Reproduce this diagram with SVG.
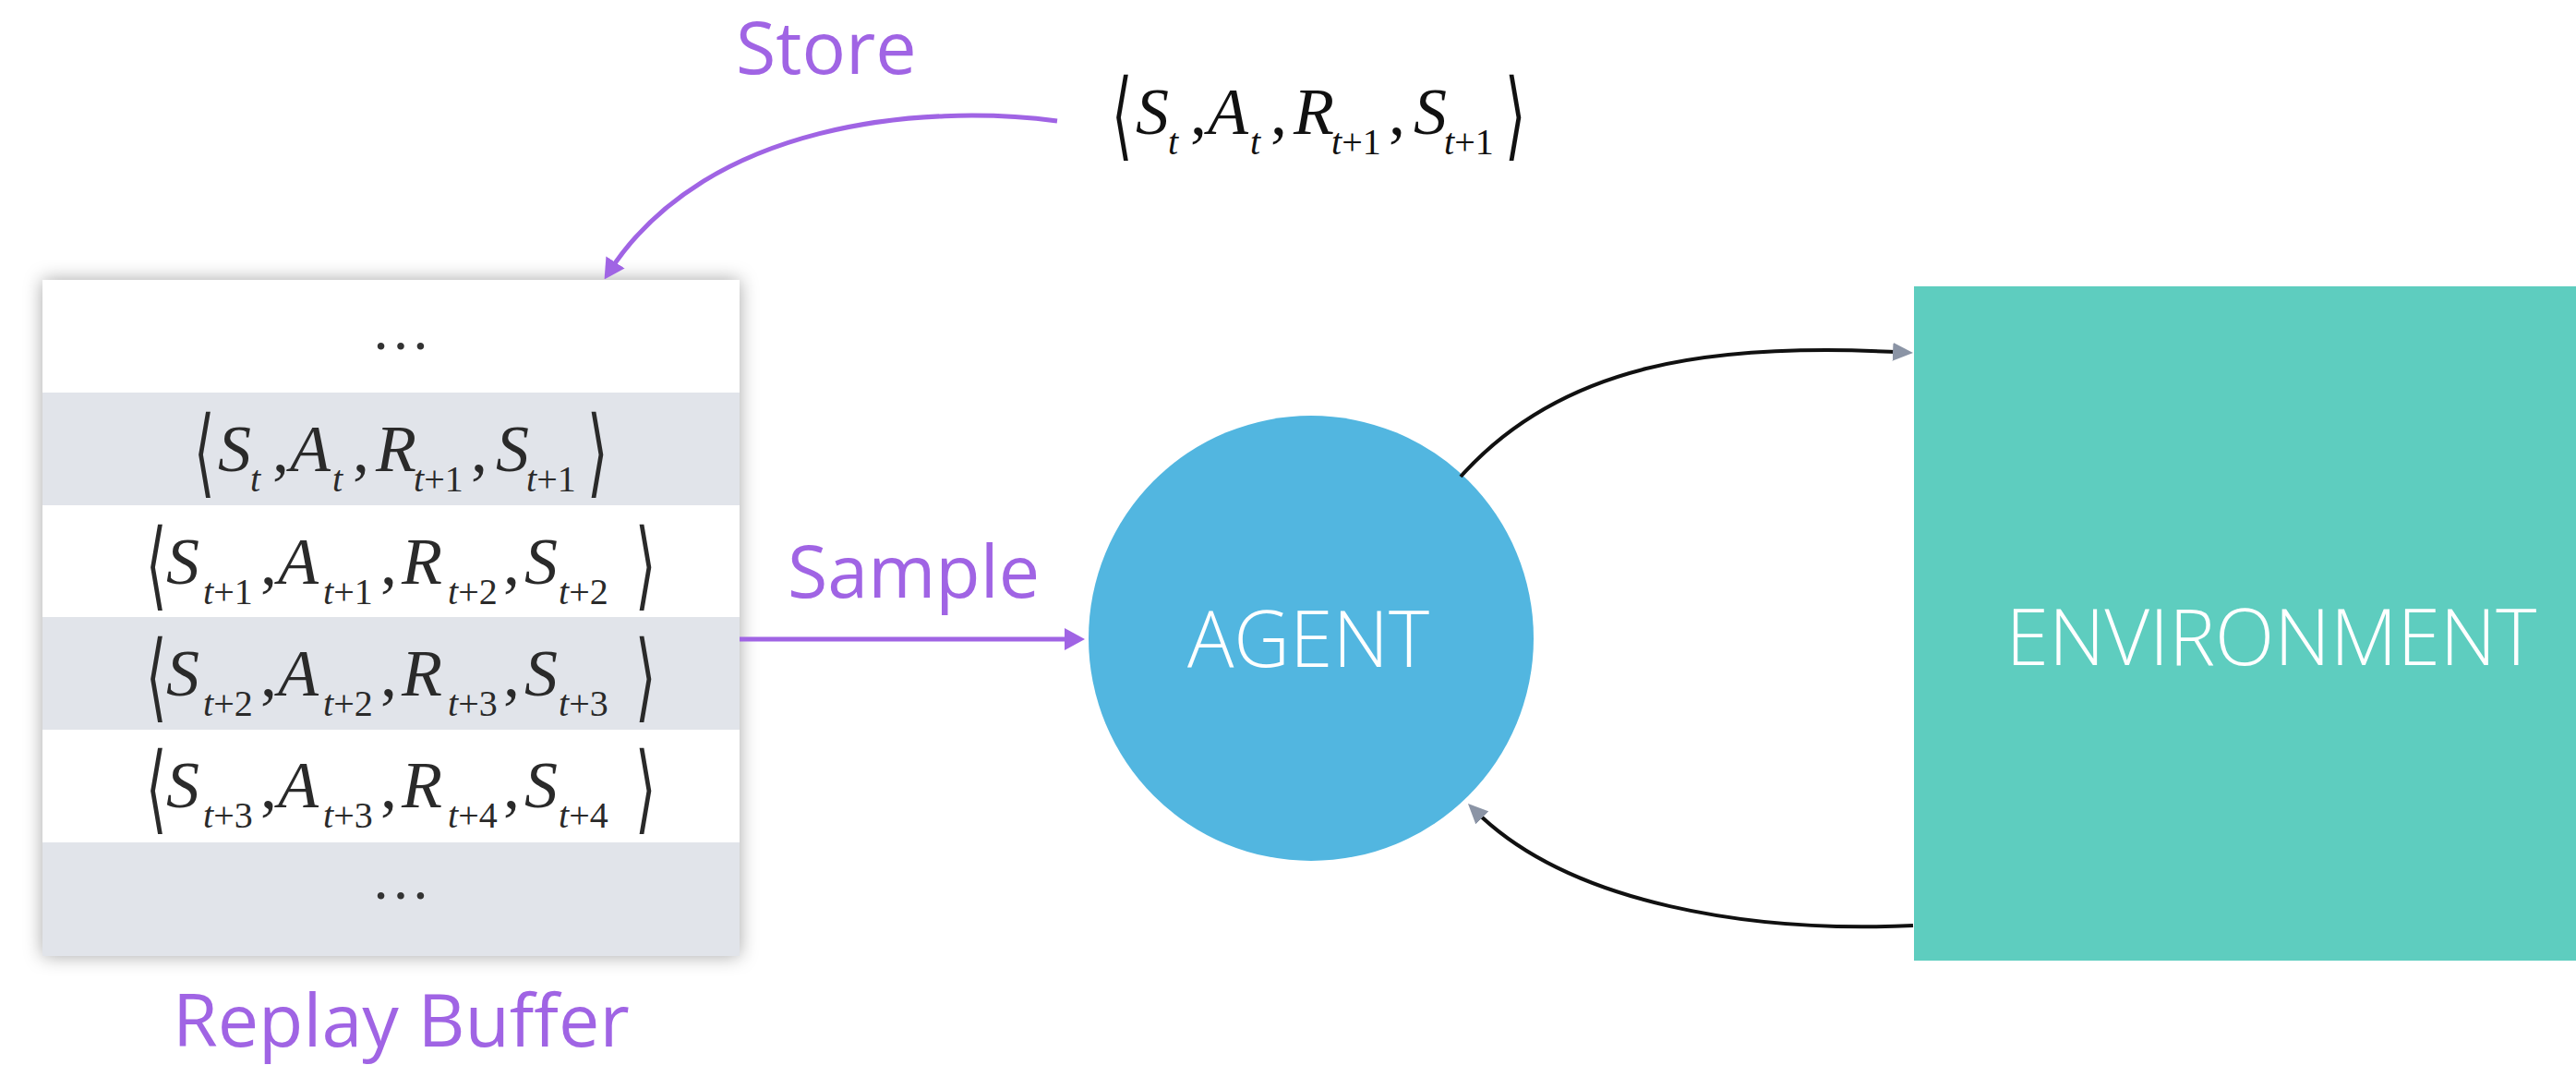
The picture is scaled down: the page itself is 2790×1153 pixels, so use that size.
<svg xmlns="http://www.w3.org/2000/svg" width="2790" height="1153" viewBox="0 0 2790 1153">
<style>
.lbl{font-family:"Open Sans","Liberation Sans",sans-serif;fill:#a064e4;font-size:79px}
.wht{font-family:"Open Sans","Liberation Sans",sans-serif;fill:#ffffff;font-size:84px;font-weight:300}
.mi{font-family:"Liberation Serif","Times New Roman",serif;font-style:italic;font-size:72px}
.mr{font-family:"Liberation Serif","Times New Roman",serif;font-size:72px}
.sub{font-family:"Liberation Serif","Times New Roman",serif;font-size:40px}
.it{font-style:italic}
.br{font-family:"DejaVu Serif","DejaVu Sans",serif;font-size:96px;font-weight:200}
.dots{font-family:"Liberation Serif",serif;font-size:64px;fill:#333;text-anchor:middle}
.tup{fill:#2a2a2a}
.top{fill:#111}
.pl{fill:none;stroke:#a064e4;stroke-width:5}
.bl{fill:none;stroke:#111;stroke-width:4}
</style>
<defs>
<filter id="sh" x="-10%" y="-10%" width="120%" height="120%">
<feDropShadow dx="0" dy="0" stdDeviation="10" flood-color="#000" flood-opacity="0.35"/>
</filter>
<marker id="ap" markerUnits="userSpaceOnUse" viewBox="0 0 22 24" markerWidth="22" markerHeight="24" refX="12" refY="12" orient="auto">
<path d="M0,0 L22,12 L0,24 z" fill="#a064e4"/>
</marker>
<marker id="ag" markerUnits="userSpaceOnUse" viewBox="0 0 22 20" markerWidth="22" markerHeight="20" refX="12" refY="10" orient="auto">
<path d="M0,0 L22,10 L0,20 z" fill="#8b94a5"/>
</marker>
</defs>
<rect width="2790" height="1153" fill="#ffffff"/>

<g id="replay-buffer">
<rect x="46" y="303" width="755" height="732" fill="#ffffff" filter="url(#sh)"/>
<rect x="46" y="303" width="755" height="122" fill="#ffffff"/>
<rect x="46" y="425" width="755" height="122" fill="#e1e4ea"/>
<rect x="46" y="547" width="755" height="121" fill="#ffffff"/>
<rect x="46" y="668" width="755" height="122" fill="#e1e4ea"/>
<rect x="46" y="790" width="755" height="122" fill="#ffffff"/>
<rect x="46" y="912" width="755" height="123" fill="#e1e4ea"/>
<text class="dots" x="434" y="378">…</text>
<text class="dots" x="434" y="973">…</text>

<g class="tup" transform="translate(210,510)">
<text class="br" transform="translate(0,15) scale(0.6,1.09)">⟨</text>
<text class="mi"><tspan x="26">S</tspan><tspan x="104">A</tspan><tspan x="197">R</tspan><tspan x="327">S</tspan></text>
<text class="mr"><tspan x="85">,</tspan><tspan x="172">,</tspan><tspan x="300">,</tspan></text>
<text class="sub" y="22"><tspan x="61" class="it">t</tspan><tspan x="150" class="it">t</tspan><tspan x="238" class="it">t</tspan><tspan>+1</tspan><tspan x="360" class="it">t</tspan><tspan>+1</tspan></text>
<text class="br" transform="translate(426,15) scale(0.6,1.09)">⟩</text>
</g>

<g class="tup" transform="translate(158,632)">
<text class="br" transform="translate(0,15) scale(0.6,1.09)">⟨</text>
<text class="mi"><tspan x="22">S</tspan><tspan x="143">A</tspan><tspan x="277">R</tspan><tspan x="410">S</tspan></text>
<text class="mr"><tspan x="124">,</tspan><tspan x="254">,</tspan><tspan x="387">,</tspan></text>
<text class="sub" y="22"><tspan x="62" class="it">t</tspan><tspan>+1</tspan><tspan x="192" class="it">t</tspan><tspan>+1</tspan><tspan x="327" class="it">t</tspan><tspan>+2</tspan><tspan x="447" class="it">t</tspan><tspan>+2</tspan></text>
<text class="br" transform="translate(530,15) scale(0.6,1.09)">⟩</text>
</g>

<g class="tup" transform="translate(158,753)">
<text class="br" transform="translate(0,15) scale(0.6,1.09)">⟨</text>
<text class="mi"><tspan x="22">S</tspan><tspan x="143">A</tspan><tspan x="277">R</tspan><tspan x="410">S</tspan></text>
<text class="mr"><tspan x="124">,</tspan><tspan x="254">,</tspan><tspan x="387">,</tspan></text>
<text class="sub" y="22"><tspan x="62" class="it">t</tspan><tspan>+2</tspan><tspan x="192" class="it">t</tspan><tspan>+2</tspan><tspan x="327" class="it">t</tspan><tspan>+3</tspan><tspan x="447" class="it">t</tspan><tspan>+3</tspan></text>
<text class="br" transform="translate(530,15) scale(0.6,1.09)">⟩</text>
</g>

<g class="tup" transform="translate(158,874)">
<text class="br" transform="translate(0,15) scale(0.6,1.09)">⟨</text>
<text class="mi"><tspan x="22">S</tspan><tspan x="143">A</tspan><tspan x="277">R</tspan><tspan x="410">S</tspan></text>
<text class="mr"><tspan x="124">,</tspan><tspan x="254">,</tspan><tspan x="387">,</tspan></text>
<text class="sub" y="22"><tspan x="62" class="it">t</tspan><tspan>+3</tspan><tspan x="192" class="it">t</tspan><tspan>+3</tspan><tspan x="327" class="it">t</tspan><tspan>+4</tspan><tspan x="447" class="it">t</tspan><tspan>+4</tspan></text>
<text class="br" transform="translate(530,15) scale(0.6,1.09)">⟩</text>
</g>
<text class="lbl" x="187" y="1133">Replay Buffer</text>
</g>

<g id="transition" class="top" transform="translate(1204,145)">
<text class="br" transform="translate(0,15) scale(0.6,1.09)">⟨</text>
<text class="mi"><tspan x="26">S</tspan><tspan x="104">A</tspan><tspan x="197">R</tspan><tspan x="327">S</tspan></text>
<text class="mr"><tspan x="85">,</tspan><tspan x="172">,</tspan><tspan x="300">,</tspan></text>
<text class="sub" y="22"><tspan x="61" class="it">t</tspan><tspan x="150" class="it">t</tspan><tspan x="238" class="it">t</tspan><tspan>+1</tspan><tspan x="360" class="it">t</tspan><tspan>+1</tspan></text>
<text class="br" transform="translate(426,15) scale(0.6,1.09)">⟩</text>
</g>

<g id="agent">
<circle cx="1420" cy="691" r="241" fill="#52b6e0"/>
<text class="wht" x="1417" y="722" text-anchor="middle">AGENT</text>
</g>

<g id="environment">
<rect x="2073" y="310" width="717" height="730" fill="#5ecdbf"/>
<text class="wht" x="2460" y="720" text-anchor="middle" font-size="85">ENVIRONMENT</text>
</g>

<g id="connectors">
<path class="pl" d="M1145,131 C1000,112 765,132 660,294" marker-end="url(#ap)"/>
<text class="lbl" x="797" y="80" font-size="77">Store</text>
<path class="pl" d="M801,692 L1165,692" marker-end="url(#ap)"/>
<text class="lbl" x="853" y="647">Sample</text>
<path class="bl" d="M1582,516 C1690,395 1850,370 2062,381.5" marker-end="url(#ag)"/>
<path class="bl" d="M2072,1002 C1900,1010 1700,980 1597,877" marker-end="url(#ag)"/>
</g>
</svg>
